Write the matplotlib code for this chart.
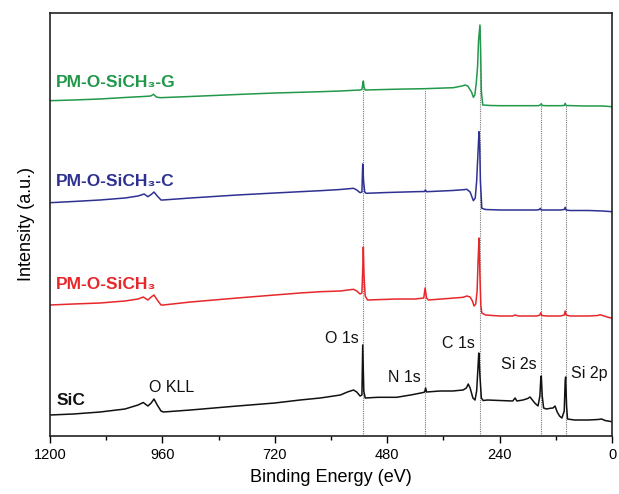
import numpy as np
import matplotlib
matplotlib.use("Agg")
import matplotlib.pyplot as plt
from matplotlib.ticker import MultipleLocator

plt.rcParams["font.family"] = ["Liberation Sans", "DejaVu Sans"]

# binding energy (eV) / intensity (a.u.)
sic_e = [1200, 1150, 1093, 1040, 1012, 1001, 991, 984, 978, 971, 963, 958, 900, 800, 720,
         666, 623, 580, 565, 552, 545, 538, 534, 532.3, 530, 527, 500, 460, 430, 405, 400,
         398, 396, 367, 340, 318, 311, 307, 303, 297, 292.5, 289, 286, 284.5, 282, 279, 275,
         266, 240, 212, 207, 203, 190, 180, 175, 170, 165, 158, 154, 152, 151, 149, 146, 140,
         132, 126, 121.7, 117, 112, 107, 102, 100, 99, 97, 95, 80, 50, 30, 22, 15, 0]
sic_i = [21, 22, 24, 27, 31, 33.5, 30, 33, 37, 31, 25, 24, 26, 30, 33,
         36, 38, 41, 44, 46, 44, 40, 41, 91, 45, 38, 38.7, 38.7, 41, 43.3, 44,
         48, 44, 45, 45, 46, 48, 52, 48, 38, 36, 45, 70, 83, 60, 38, 35.5,
         36, 35.5, 35, 38, 35, 36, 37.5, 39, 36, 33, 30, 40, 58, 60, 40, 28, 27,
         27.7, 28, 30, 24, 20, 18, 25, 55, 59, 30, 17, 16, 16, 16.5, 17, 15.5, 14.3]

pm_e = [1200, 1150, 1093, 1040, 1012, 1001, 991, 984, 978, 971, 963, 958, 900, 800, 720,
        666, 623, 580, 552, 545, 538, 534, 532, 531, 529.5, 527, 522, 460, 420, 402, 399,
        396, 392, 350, 318, 310, 303, 298, 294.6, 291, 288, 286, 284, 282, 280, 278, 270,
        240, 212, 207, 200, 160, 154, 152, 150, 140, 110, 102, 100, 98, 90, 50, 30, 25.6,
        20, 10, 0]
pm_i = [131, 132, 133, 135, 137, 139, 136, 139, 141, 136, 131, 131, 134, 138, 141,
        143, 144.3, 145, 146.7, 145, 142, 143, 170, 189, 160, 140, 136, 137, 137, 138, 148,
        138, 136, 137.5, 138.7, 140, 139, 135, 130, 132, 145, 175, 198, 160, 130, 123, 121,
        120, 120, 121, 120, 120, 121, 123.3, 120.5, 120, 120, 121, 125, 121, 120, 120, 120.5, 121.3,
        120.5, 119, 117.7]

pmc_e = [1200, 1150, 1093, 1040, 1012, 999, 991, 984, 978, 971, 963, 959, 900, 800, 720,
         666, 623, 580, 552, 545, 538, 534, 532.3, 530.5, 528, 525, 480, 420, 400, 398.6,
         396, 340, 317, 310, 303, 296, 292, 289, 286, 284, 282.5, 281, 278, 270, 240, 175,
         160, 155, 153, 151, 140, 110, 102, 100, 98, 90, 50, 20, 0]
pmc_i = [233.3, 234.5, 236, 238, 240, 242, 239.3, 241.5, 244, 240, 236, 236, 238, 241, 243,
         244.3, 245.3, 246.5, 247.7, 246, 243.3, 244, 272, 255, 244, 242.7, 243.5, 244.3, 244.5, 246,
         244.3, 245.5, 246.3, 246.7, 244, 235.3, 238, 255, 285, 304.3, 290, 255, 227.7, 226.5, 226, 226,
         226, 226.5, 227.7, 226, 226, 226, 226.5, 228.7, 226, 225.5, 225.5, 225, 224.3]

pmg_e = [1200, 1150, 1093, 1040, 1000, 985, 979, 973, 965, 900, 800, 720, 666, 623, 580,
         538, 534, 532, 531, 529.5, 527, 460, 400, 339, 320, 314, 308, 300, 296, 293, 290,
         287, 285, 282, 280.5, 279, 276, 260, 240, 200, 157, 153, 151, 149, 140, 110, 102,
         100, 98, 60, 20, 0]
pmg_i = [335.3, 336, 337, 338.5, 339.5, 340, 341.7, 339, 338.3, 339.5, 341.5, 343, 343.7, 344.3, 345,
         346, 346.5, 352, 355, 349, 346, 346.8, 347.3, 348.3, 350, 351, 350, 344, 338.7, 341, 352,
         370, 395, 411, 385, 345, 331, 330.5, 330.3, 330.3, 330.3, 331, 332.3, 330.5, 330.3, 330.3, 330.5,
         332.7, 330.5, 330, 330, 329.3]

# peak reference lines and annotations
line_pos = [531, 399, 282, 151, 99]
peak_labels = ["O KLL", "O 1s", "N 1s", "C 1s", "Si 2s", "Si 2p"]
peak_x = [940, 577, 444, 327, 199, 49]
peak_y = [49, 98, 59, 93, 72, 63]

series = [
    ("SiC", sic_e, sic_i, "#111111", 36),
    ("PM-O-SiCH\u2083", pm_e, pm_i, "#e8272b", 152),
    ("PM-O-SiCH\u2083-C", pmc_e, pmc_i, "#2e3192", 254),
    ("PM-O-SiCH\u2083-G", pmg_e, pmg_i, "#21984a", 353),
]

fig = plt.figure(figsize=(6.19, 4.94), dpi=100)
ax = fig.add_axes([0.0808, 0.1174, 0.9079, 0.8563])

# dotted guide lines from the axis up to the top spectrum
g_e = np.array(pmg_e)[::-1]
g_i = np.array(pmg_i)[::-1]
for x in line_pos:
    top = np.interp(x, g_e, g_i) - 1
    ax.vlines(x, 0, top, color="#777777", lw=0.8, linestyle=(0, (1, 1)), zorder=1)

for name, e, inten, col, ly in series:
    ax.plot(e, inten, color=col, lw=1.1, zorder=2)
    ax.text(1187, ly, name, color=col, fontsize=12.5, fontweight="bold",
            ha="left", va="center")

for lab, x, y in zip(peak_labels, peak_x, peak_y):
    ax.text(x, y, lab, fontsize=11.5, ha="center", va="center", color="#111111")

ax.set_xlim(1200, 0)
ax.set_ylim(0, 423)
ax.xaxis.set_major_locator(MultipleLocator(240))
ax.xaxis.set_minor_locator(MultipleLocator(120))
ax.set_yticks([])
ax.tick_params(axis="x", which="major", direction="out", length=5, width=1, labelsize=10.5)
ax.tick_params(axis="x", which="minor", direction="out", length=3, width=1)
for s in ax.spines.values():
    s.set_linewidth(1.2)
    s.set_color("#222222")

ax.set_xlabel("Binding Energy (eV)", fontsize=13, labelpad=5)
ax.set_ylabel("Intensity (a.u.)", fontsize=13, labelpad=11)

fig.savefig("out.png", dpi=100)
